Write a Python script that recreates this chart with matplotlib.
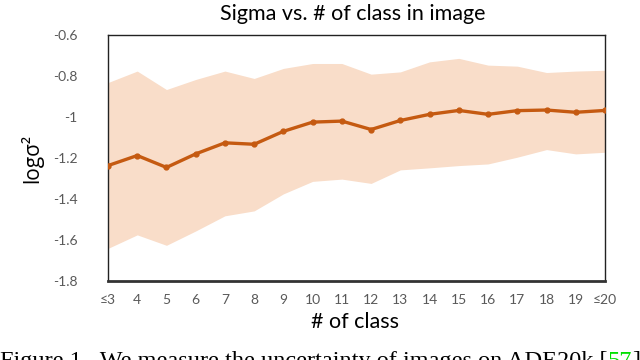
import numpy as np
import matplotlib.pyplot as plt

# ── data ─────────────────────────────────────────────────────────────────────
classes = ['≤3', '4', '5', '6', '7', '8', '9', '10', '11', '12',
           '13', '14', '15', '16', '17', '18', '19', '≤20']
mean_log_sigma = [-1.237, -1.188, -1.246, -1.180, -1.126, -1.133, -1.070, -1.025, -1.020,
                  -1.061, -1.017, -0.987, -0.968, -0.987, -0.969, -0.966, -0.977, -0.968]
upper = [-0.832, -0.776, -0.866, -0.817, -0.776, -0.812, -0.763, -0.739, -0.739,
         -0.791, -0.780, -0.731, -0.714, -0.747, -0.752, -0.783, -0.776, -0.772]
lower = [-1.641, -1.575, -1.626, -1.556, -1.482, -1.458, -1.375, -1.314, -1.303,
         -1.324, -1.258, -1.248, -1.237, -1.229, -1.196, -1.159, -1.180, -1.172]
yticks = [-0.6, -0.8, -1.0, -1.2, -1.4, -1.6, -1.8]
ytick_labels = ['-0.6', '-0.8', '-1', '-1.2', '-1.4', '-1.6', '-1.8']

LINE = '#C55A11'
FILL = '#F9DDC9'
GREY = '#595959'
FONT = 'Lato'

fig = plt.figure(figsize=(6.4, 3.6), dpi=100)
fig.patch.set_facecolor('white')
ax = fig.add_axes([108/640, 1 - 281/360, (605-108)/640, (281-35)/360])

x = np.arange(len(classes))
ax.fill_between(x, lower, upper, color=FILL, lw=0, zorder=1)
ax.plot(x, mean_log_sigma, color=LINE, lw=2.4, marker='o', ms=3.5, zorder=3)

ax.set_xlim(0, len(classes) - 1)
ax.set_ylim(-1.8, -0.6)
ax.set_xticks(x)
ax.set_xticklabels(classes)
ax.set_yticks(yticks)
ax.set_yticklabels(ytick_labels)
ax.tick_params(length=0, labelsize=10, labelcolor=GREY)
ax.tick_params(axis='x', pad=9)
ax.tick_params(axis='y', pad=22)
for lab in ax.get_xticklabels() + ax.get_yticklabels():
    lab.set_fontfamily(FONT)

for side in ['left', 'right', 'top']:
    ax.spines[side].set_linewidth(1.0)
    ax.spines[side].set_color('#222222')
ax.spines['bottom'].set_linewidth(2.0)
ax.spines['bottom'].set_color('#333333')

fig.text(353/640, 1 - 14/360, 'Sigma vs. # of class in image', ha='center', va='center',
         fontsize=15.5, fontfamily=FONT, color='black')
fig.text(355/640, 1 - 322/360, '# of class', ha='center', va='center',
         fontsize=15.5, fontfamily=FONT, color='black')
fig.text(32/640, 1 - 158/360, 'logσ²', ha='center', va='center', rotation=90,
         fontsize=15, fontfamily=['Open Sans', 'DejaVu Sans'], color='black')

# caption of the paper figure, cut off at the bottom edge as in the reference
cap_y = 1 - 351/360
parts = [('Figure 1.  We measure the uncertainty of images on ADE20k [', 'black'),
         ('57', '#00E000'), (']', 'black')]
renderer = fig.canvas.get_renderer()
x0 = 0.0
for txt, col in parts:
    t = fig.text(x0, cap_y, txt, ha='left', va='top', fontsize=17.5,
                 fontfamily='Liberation Serif', color=col)
    bb = t.get_window_extent(renderer=renderer)
    x0 = bb.x1 / fig.bbox.width

fig.savefig('out.png', dpi=100, facecolor='white')
